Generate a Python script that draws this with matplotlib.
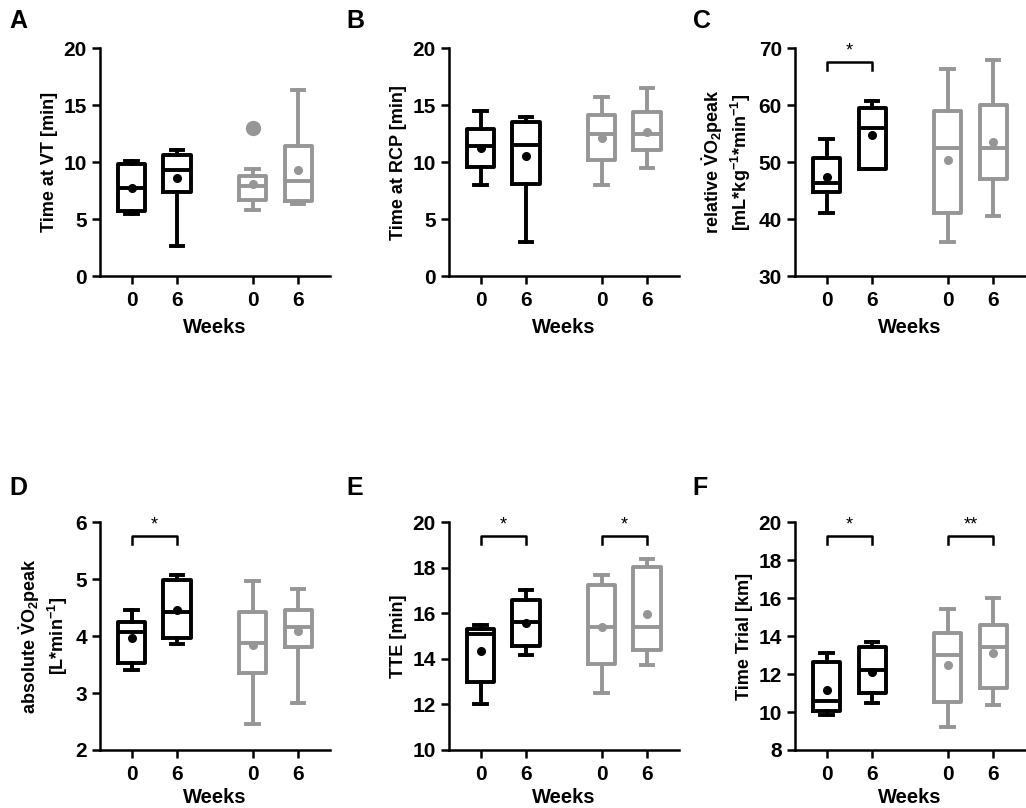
import matplotlib
matplotlib.use('Agg')
import matplotlib.pyplot as plt

plt.rcParams['font.family'] = ['Liberation Sans', 'DejaVu Sans']
plt.rcParams['font.weight'] = 'bold'
plt.rcParams['mathtext.fontset'] = 'custom'
plt.rcParams['mathtext.rm'] = 'Liberation Sans:bold'
plt.rcParams['mathtext.it'] = 'Liberation Sans:bold'
plt.rcParams['mathtext.bf'] = 'Liberation Sans:bold'

# etiquetas del eje x (semanas)
week_labels = ['0', '6', '0', '6']

# cada caja: [whislo, q1, mediana, q3, whishi]
vt_box = [[5.4, 5.7, 7.7, 9.8, 10.1], [2.6, 7.4, 9.3, 10.6, 11.1],
          [5.8, 6.7, 7.9, 8.8, 9.4], [6.3, 6.6, 8.3, 11.4, 16.3]]
vt_mean = [7.7, 8.6, 8.1, 9.3]
vt_out = [[], [], [13.0], []]

rcp_box = [[8.0, 9.6, 11.4, 12.9, 14.5], [3.0, 8.1, 11.5, 13.5, 14.0],
           [8.0, 10.2, 12.5, 14.1, 15.7], [9.5, 11.1, 12.5, 14.4, 16.5]]
rcp_mean = [11.2, 10.5, 12.1, 12.6]

rel_box = [[41.0, 44.8, 46.3, 50.8, 54.0], [48.7, 48.7, 55.9, 59.5, 60.8],
           [36.0, 41.0, 52.4, 59.0, 66.4], [40.6, 47.1, 52.4, 60.0, 68.0]]
rel_mean = [47.3, 54.8, 50.4, 53.5]

abs_box = [[3.41, 3.53, 4.07, 4.25, 4.45], [3.86, 3.97, 4.43, 4.99, 5.08],
           [2.45, 3.35, 3.88, 4.43, 4.96], [2.83, 3.81, 4.16, 4.46, 4.82]]
abs_mean = [3.96, 4.46, 3.85, 4.09]

tte_box = [[12.0, 12.98, 15.1, 15.32, 15.5], [14.18, 14.57, 15.6, 16.57, 17.04],
           [12.5, 13.78, 15.4, 17.24, 17.7], [13.72, 14.4, 15.4, 18.04, 18.39]]
tte_mean = [14.34, 15.57, 15.4, 15.97]

tt_box = [[9.86, 10.05, 10.6, 12.64, 13.1], [10.46, 10.99, 12.22, 13.4, 13.68],
          [9.23, 10.54, 13.0, 14.15, 15.44], [10.37, 11.29, 13.45, 14.56, 16.0]]
tt_mean = [11.14, 12.11, 12.48, 13.13]

# significancia: (caja inicio, caja fin, altura, texto)
rel_sig = [(0, 1, 67.5, '*')]
abs_sig = [(0, 1, 5.75, '*')]
tte_sig = [(0, 1, 19.38, '*'), (2, 3, 19.38, '*')]
tt_sig = [(0, 1, 19.26, '*'), (2, 3, 19.26, '**')]

pos = [0, 1, 2.67, 3.67]
colores = ['black', 'black', '#969696', '#969696']

fig = plt.figure(figsize=(10.26, 8.08), dpi=100)

lefts = [0.0975, 0.4376, 0.7749]
bottoms = [0.6584, 0.0718]
w = 0.224
h = 0.282
letra_x = [0.009, 0.338, 0.675]
letra_y = [0.974, 0.396]
label_pad = [5.5, 3]


def panel(col, row, letra, cajas, medias, ylabel, yticks, sig=None, out=None):
    ax = fig.add_axes([lefts[col], bottoms[row], w, h])
    stats = []
    for i, c in enumerate(cajas):
        stats.append({'whislo': c[0], 'q1': c[1], 'med': c[2], 'q3': c[3],
                      'whishi': c[4], 'mean': medias[i],
                      'fliers': out[i] if out else []})
    art = ax.bxp(stats, positions=pos, widths=0.6, showmeans=True,
                 capwidths=0.28, showfliers=True)
    lw = 2.8
    for i in range(4):
        col_i = colores[i]
        art['boxes'][i].set(color=col_i, linewidth=lw)
        art['medians'][i].set(color=col_i, linewidth=lw)
        for k in (2 * i, 2 * i + 1):
            art['whiskers'][k].set(color=col_i, linewidth=lw)
            art['caps'][k].set(color=col_i, linewidth=lw)
        art['means'][i].set(marker='o', markerfacecolor=col_i,
                            markeredgecolor=col_i, markersize=5.5)
        art['fliers'][i].set(marker='o', markerfacecolor=col_i,
                             markeredgecolor=col_i, markersize=10)
    ax.set_xlim(-0.7, 4.37)
    ax.set_ylim(yticks[0], yticks[-1])
    ax.set_yticks(yticks)
    ax.set_xticks(pos)
    ax.set_xticklabels(week_labels)
    ax.tick_params(labelsize=15, width=1.8, length=6, direction='out')
    ax.tick_params(axis='x', pad=5)
    for s in ['top', 'right']:
        ax.spines[s].set_visible(False)
    for s in ['left', 'bottom']:
        ax.spines[s].set_linewidth(1.8)
    ax.set_ylabel(ylabel, fontsize=13, fontweight='bold')
    ax.set_xlabel('Weeks', fontsize=14.5, fontweight='bold', labelpad=label_pad[row])
    # corchetes de significancia
    if sig:
        rango = yticks[-1] - yticks[0]
        for a, b, y, txt in sig:
            dy = rango * 0.035
            ax.plot([pos[a], pos[a], pos[b], pos[b]], [y - dy, y, y, y - dy],
                    color='black', linewidth=1.8, clip_on=False)
            ax.text((pos[a] + pos[b]) / 2, y + rango * 0.012, txt,
                    ha='center', va='bottom', fontsize=13, fontweight='normal')
    fig.text(letra_x[col], letra_y[row], letra,
             fontsize=18, fontweight='bold', va='center')
    return ax


panel(0, 0, 'A', vt_box, vt_mean, 'Time at VT [min]', [0, 5, 10, 15, 20], out=vt_out)
panel(1, 0, 'B', rcp_box, rcp_mean, 'Time at RCP [min]', [0, 5, 10, 15, 20])
panel(2, 0, 'C', rel_box, rel_mean,
      'relative $\\dot{V}$O$_2$peak\n[mL*kg$^{-1}$*min$^{-1}$]',
      [30, 40, 50, 60, 70], sig=rel_sig)
panel(0, 1, 'D', abs_box, abs_mean,
      'absolute $\\dot{V}$O$_2$peak\n[L*min$^{-1}$]', [2, 3, 4, 5, 6], sig=abs_sig)
panel(1, 1, 'E', tte_box, tte_mean, 'TTE [min]', [10, 12, 14, 16, 18, 20], sig=tte_sig)
panel(2, 1, 'F', tt_box, tt_mean, 'Time Trial [km]', [8, 10, 12, 14, 16, 18, 20], sig=tt_sig)

plt.savefig('out.png', dpi=100)
